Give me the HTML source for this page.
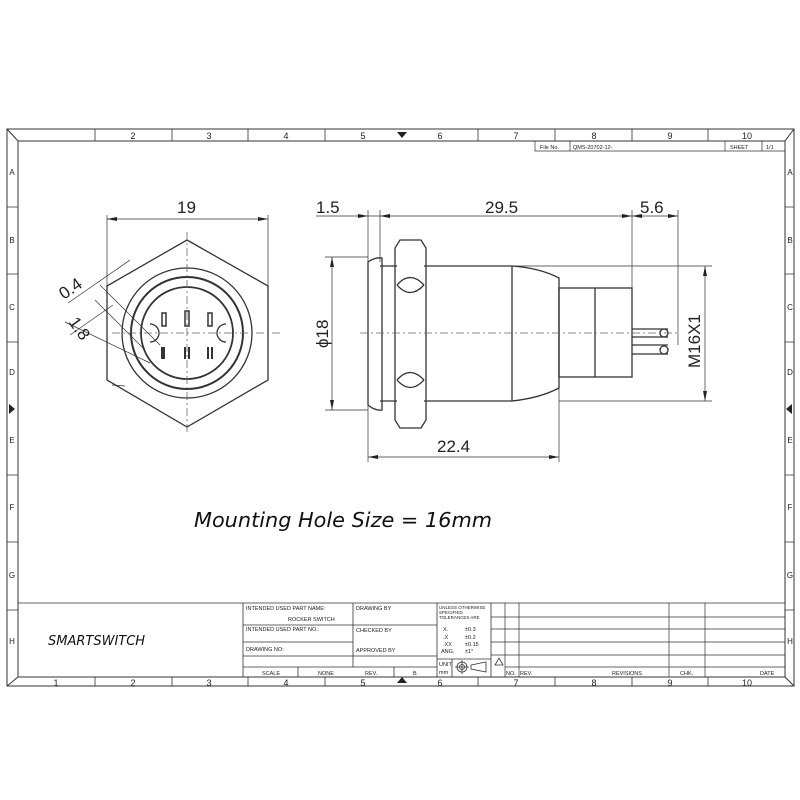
<!DOCTYPE html>
<html><head><meta charset="utf-8"><style>html,body{margin:0;padding:0;background:#fff}svg{display:block}</style></head><body>
<svg width="800" height="800" viewBox="0 0 800 800" xmlns="http://www.w3.org/2000/svg" font-family="Liberation Sans, sans-serif">
<g fill="none" stroke="#333" stroke-width="1">
<rect x="7" y="129" width="787" height="557"/>
<rect x="18" y="141" width="767" height="536"/>
<line x1="7" y1="129" x2="18" y2="141"/><line x1="794" y1="129" x2="785" y2="141"/>
<line x1="7" y1="686" x2="18" y2="677"/><line x1="794" y1="686" x2="785" y2="677"/>
<g stroke-width="0.8">
<path d="M95 129V141M172 129V141M248 129V141M325 129V141M478 129V141M555 129V141M632 129V141M708 129V141"/>
<path d="M95 677V686M172 677V686M248 677V686M325 677V686M478 677V686M555 677V686M632 677V686M708 677V686"/>
<path d="M7 207H18M7 274H18M7 342H18M7 475H18M7 542H18M7 610H18"/>
<path d="M785 207H794M785 274H794M785 342H794M785 475H794M785 542H794M785 610H794"/>
</g>
<path d="M535 141V151H785M570 141V151M725 141V151M762 141V151" stroke-width="0.7"/>
<path d="M18 603H785M243 603V677M353 603V667M437 603V677M491 603V677M243 625H437M243 642H353M353 656H437M243 656H353M243 667H437M298 667V677M394 667V677M437 659H491M452 659V677" stroke-width="0.8"/>
<path d="M491 617H785M491 629H785M491 642H785M491 655H785M505 603V677M519 603V677M669 603V677M705 603V677M505 667H785" stroke-width="0.7"/>
</g>
<g fill="#222">
<path d="M397 132h10l-5 6z"/><path d="M397 683h10l-5-6z"/><path d="M9 404v10l6-5z"/><path d="M792 404v10l-6-5z"/>
</g>
<g font-size="9" fill="#222" text-anchor="middle">
<text x="133" y="139">2</text><text x="209" y="139">3</text><text x="286" y="139">4</text><text x="363" y="139">5</text><text x="440" y="139">6</text><text x="516" y="139">7</text><text x="594" y="139">8</text><text x="670" y="139">9</text><text x="747" y="139">10</text>
<text x="56" y="686">1</text><text x="133" y="686">2</text><text x="209" y="686">3</text><text x="286" y="686">4</text><text x="363" y="686">5</text><text x="440" y="686">6</text><text x="516" y="686">7</text><text x="594" y="686">8</text><text x="670" y="686">9</text><text x="747" y="686">10</text>
<g font-size="8"><text x="12" y="175">A</text><text x="12" y="243">B</text><text x="12" y="310">C</text><text x="12" y="375">D</text><text x="12" y="443">E</text><text x="12" y="510">F</text><text x="12" y="578">G</text><text x="12" y="644">H</text>
<text x="790" y="175">A</text><text x="790" y="243">B</text><text x="790" y="310">C</text><text x="790" y="375">D</text><text x="790" y="443">E</text><text x="790" y="510">F</text><text x="790" y="578">G</text><text x="790" y="644">H</text></g>
</g>
<g font-size="5.5" fill="#222">
<text x="540" y="149">File No.</text><text x="573" y="149">QMS-20702-12-</text><text x="730" y="149">SHEET</text><text x="766" y="149">1/1</text>
<text x="246" y="610">INTENDED USED PART NAME:</text><text x="288" y="621">ROCKER SWITCH</text>
<text x="246" y="631">INTENDED USED PART NO.:</text><text x="246" y="651">DRAWING NO:</text>
<text x="356" y="610">DRAWING BY</text><text x="356" y="632">CHECKED BY</text><text x="356" y="652">APPROVED BY</text>
<text x="262" y="675">SCALE</text><text x="318" y="675">NONE</text><text x="365" y="675">REV.</text><text x="413" y="675">B</text>
<text x="439" y="609" font-size="4.5">UNLESS OTHERWISE</text><text x="439" y="614" font-size="4.5">SPECIFIED</text><text x="439" y="619" font-size="4.5">TOLERANCES ARE</text>
<text x="443" y="631">X.</text><text x="465" y="631">±0.3</text><text x="443" y="639">.X</text><text x="465" y="639">±0.2</text><text x="443" y="646">.XX</text><text x="465" y="646">±0.15</text><text x="441" y="653">ANG.</text><text x="465" y="653">±1°</text>
<text x="439" y="666">UNIT</text><text x="439" y="674">mm</text>
<text x="506" y="675">NO.</text><text x="520" y="675">REV.</text><text x="612" y="675">REVISIONS</text><text x="680" y="675">CHK.</text><text x="760" y="675">DATE</text>
</g>
<g fill="none" stroke="#333" stroke-width="0.8"><circle cx="462" cy="667" r="5"/><circle cx="462" cy="667" r="2.5"/><path d="M455 667h14M462 660v14M471 665l15-3v10l-15-3z"/><path d="M495 665l4-7 4 7z"/></g>
<text x="48" y="645" font-size="13" font-style="italic" fill="#111" font-family="DejaVu Sans, sans-serif">SMARTSWITCH</text>
<text x="194" y="527" font-size="20" font-style="italic" fill="#111" font-family="DejaVu Sans, sans-serif" textLength="298" lengthAdjust="spacingAndGlyphs">Mounting Hole Size = 16mm</text>

<g fill="none" stroke="#333" stroke-width="1.3">
<path d="M187 240L268 286V380L187 427L107 380V286Z"/>
<circle cx="187" cy="333" r="65"/><circle cx="187" cy="333" r="56" stroke-width="2"/><circle cx="187" cy="333" r="46" stroke-width="1.8"/>
<rect x="162" y="313" width="4" height="13" stroke-width="1.5"/><rect x="185" y="311" width="4" height="15" stroke-width="1.5"/><rect x="208" y="313" width="4" height="13" stroke-width="1.5"/>
<path d="M162 347v12M164 347v12M185 347v12M189 347v12M208 347v12M212 347v12" stroke-width="2"/>
<path d="M150 324a9 9 0 0 1 0 18M226 324a9 9 0 0 0 0 18"/>
</g>
<g stroke="#666" stroke-width="0.8" stroke-dasharray="8 3 2 3" fill="none"><path d="M112 333H280M187 232V435"/></g>
<g stroke="#333" stroke-width="0.7" fill="none">
<path d="M107 215V286M268 215V286M107 219H268"/>
<path d="M68 303L130 260M70 335L113 305M65 322L150 363M125 386L112 385M100 285L160 345M95 300L145 350"/>
</g>
<g fill="#222"><path d="M107 219l10-2v4zM268 219l-10-2v4z"/></g>
<g font-size="17" fill="#222"><text x="177" y="213">19</text>
<text transform="translate(64 300) rotate(-35)">0.4</text><text transform="translate(68 322) rotate(55)">1.8</text></g>

<g fill="none" stroke="#333" stroke-width="1.3">
<path d="M368 262Q375 257 382 258V410Q375 411 368 405Z"/>
<path d="M380 266H397M380 401H397"/>
<path d="M400 240H421L426 248V420L421 428H400L395 420V248Z"/>
<path d="M397 285Q410 270 424 285M397 285Q410 300 424 285M397 380Q410 365 424 380M397 380Q410 395 424 380"/>
<path d="M424 266H512V401H424M512 266Q540 268 559 278V388Q540 398 512 401"/>
<rect x="559" y="288" width="73" height="89"/><path d="M595 288V377"/>
<path d="M632 329H668M632 337H668M632 345H668M632 354H668"/>
<ellipse cx="664" cy="333" rx="4" ry="4"/><ellipse cx="664" cy="350" rx="4" ry="4"/>
</g>
<g stroke="#666" stroke-width="0.8" stroke-dasharray="8 3 2 3"><path d="M360 333H680"/></g>
<g stroke="#333" stroke-width="0.7" fill="none">
<path d="M368 210V462M380 210V262M632 210V288M678 210V345M316 216H678"/>
<path d="M325 257H368M325 410H368M332 257V410M512 266H712M559 401H712M705 266V401M559 388V462M368 457H559"/>
</g>
<g fill="#222"><path d="M368 216l-10-2v4zM380 216l10-2v4zM632 216l-10-2v4zM632 216l10-2v4zM678 216l-10-2v4z"/>
<path d="M332 257l-2 10h4zM332 410l-2-10h4zM705 266l-2 10h4zM705 401l-2-10h4zM368 457l10-2v4zM559 457l-10-2v4z"/></g>
<g font-size="17" fill="#222"><text x="316" y="213">1.5</text><text x="485" y="213">29.5</text><text x="640" y="213">5.6</text><text x="437" y="452">22.4</text>
<text transform="translate(328 348) rotate(-90)">ϕ18</text><text transform="translate(700 368) rotate(-90)">M16X1</text></g>
</svg>
</body></html>
